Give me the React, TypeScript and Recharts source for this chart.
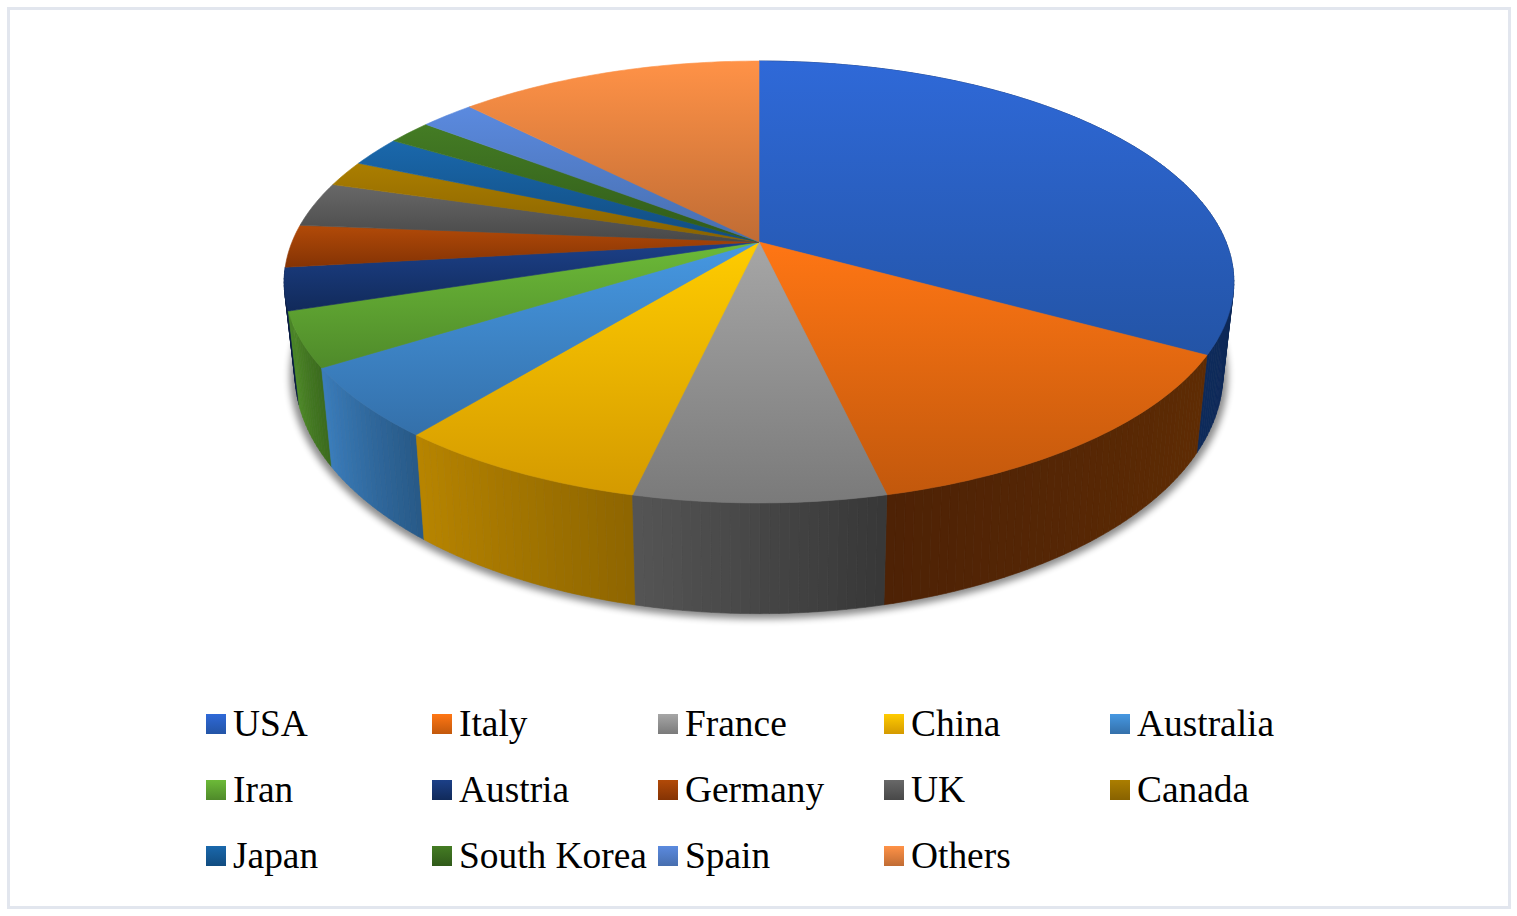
import React from 'react';
import { PieChart, Pie, Legend } from 'recharts';

const categories = ['USA', 'Italy', 'France', 'China', 'Australia', 'Iran', 'Austria', 'Germany', 'UK', 'Canada', 'Japan', 'South Korea', 'Spain', 'Others'];
const shares = [33.03, 13.35, 7.2, 7.29, 5.19, 4.0, 3.1, 3.1, 3.3, 1.9, 2.2, 1.8, 2.2, 12.34];

// top face gradient, light end then dark end
const lightColors = ['#2f69d8', '#ff7614', '#a6a6a6', '#ffcc00', '#4698e2', '#6cba38', '#1c4088', '#b24a08', '#686868', '#ab7e00', '#1a68ac', '#447c24', '#5b8adf', '#ff9247'];
const darkColors = ['#2354a6', '#c2580c', '#7a7a7a', '#d49a00', '#3470aa', '#4f8a2a', '#112a5a', '#843304', '#484848', '#886200', '#114c80', '#305a1a', '#476eae', '#c06c34'];
// side wall shade, clockwise start then end of each slice
const wallFrom = ['#0a1f44', '#5f2c04', '#383838', '#8f6600', '#285a88', '#3c6c1e', '#0c1f44', '#5a2604', '#383838', '#5c4200', '#0c3556', '#203c10', '#2f4a78', '#7c4620'];
const wallTo = ['#0e2a5a', '#4e2205', '#545454', '#b78400', '#3a7cba', '#4f8c28', '#0c1f44', '#5a2604', '#383838', '#5c4200', '#0c3556', '#203c10', '#2f4a78', '#7c4620'];

const tableData = categories.map((name, i) => ({ name, value: shares[i], fill: lightColors[i] }));
const reversedData = [...tableData].reverse();

const CX = 759;
const CY = 242;
const RADIUS = 467;
const SQUASH = 0.4576;
const PERSPECTIVE = 0.181;
const WIDEST_DY = 40;

// tilted disc: takes a library angle and returns the point on the rim
const rim = (cx: number, cy: number, r: number, angle: number) => {
  const t = ((90 - angle) * Math.PI) / 180;
  const u = Math.sin(t);
  const v = -Math.cos(t);
  const s = 1 / (1 - PERSPECTIVE * v);
  return [cx + r * u * s, cy + r * SQUASH * v * s];
};

const lower = (cx: number, cy: number, p: number[]) => [cx + (p[0] - cx) * 0.977, cy + 88 + (p[1] - cy) * 1.087];

const arcPoints = (props: any) => {
  const { cx, cy, outerRadius, startAngle, endAngle } = props;
  const pts: number[][] = [];
  const steps = Math.max(4, Math.ceil(Math.abs(startAngle - endAngle)));
  for (let i = 0; i <= steps; i++) {
    pts.push(rim(cx, cy, outerRadius, startAngle + ((endAngle - startAngle) * i) / steps));
  }
  return pts;
};

const toPath = (pts: number[][]) => 'M' + pts.map((p) => p[0].toFixed(2) + ' ' + p[1].toFixed(2)).join('L') + 'Z';

const mixHex = (a: string, b: string, t: number) => {
  const out = [1, 3, 5].map((k) => {
    const x = parseInt(a.slice(k, k + 2), 16);
    const y = parseInt(b.slice(k, k + 2), 16);
    return Math.round(x + (y - x) * t);
  });
  return `rgb(${out.join(',')})`;
};

const TopFace = (props: any) => {
  const url = `url(#top${props.index})`;
  return <path d={toPath([[props.cx, props.cy], ...arcPoints(props)])} fill={url} stroke={url} strokeWidth={0.6} />;
};

// side wall swept as thin strips, back to front, so the silhouette stays full
const wallStrips = (props: any, idx: number, flip: boolean) => {
  const pts = arcPoints(props);
  const strips = [];
  for (let i = 0; i < pts.length - 1; i++) {
    const a = pts[i];
    const b = pts[i + 1];
    const t = (flip ? pts.length - 2 - i : i) / Math.max(1, pts.length - 2);
    strips.push(
      <path
        key={i}
        d={toPath([a, b, lower(props.cx, props.cy, b), lower(props.cx, props.cy, a)])}
        fill={mixHex(wallFrom[idx], wallTo[idx], t)}
        stroke={mixHex(wallFrom[idx], wallTo[idx], t)}
        strokeWidth={0.6}
      />,
    );
  }
  return <g>{strips}</g>;
};

const cwAngle = (a: number) => ((90 - a) % 360 + 360) % 360;

const WallRight = (props: any) => {
  const idx = categories.indexOf(props.name);
  if (cwAngle(props.startAngle) >= 180) return <g />;
  return wallStrips(props, idx, false);
};

const WallLeft = (props: any) => {
  const idx = categories.indexOf(props.name);
  const pts = arcPoints(props);
  const first = pts[0];
  const last = pts[pts.length - 1];
  // clockwise start of this slice is the far end of the reversed sweep
  if (cwAngle(props.endAngle) < 180) return <g />;
  if (first[1] - props.cy < WIDEST_DY && last[1] - props.cy < WIDEST_DY) return <g />;
  return wallStrips(props, idx, true);
};

const Shadow = (props: any) => {
  const base = arcPoints(props).map((p) => lower(props.cx, props.cy, p));
  const mid: number[] = [props.cx, props.cy + 88];
  const grown = base.map((p) => [mid[0] + (p[0] - mid[0]) * 1.01, mid[1] + (p[1] - mid[1]) * 1.01 + 2]);
  return <path d={toPath([mid, ...grown])} fill="#000" stroke="#000" strokeWidth={1} />;
};

const LegendGrid = ({ payload }: any) => {
  const items = (payload || [])
    .filter((e: any) => e.type !== 'none')
    .slice(0, categories.length)
    .sort((a: any, b: any) => categories.indexOf(a.value) - categories.indexOf(b.value));
  return (
    <div style={{ display: 'grid', gridTemplateColumns: 'repeat(5, 226px)', gridAutoRows: '66px', fontFamily: '"Liberation Serif", serif', fontSize: 37.4, color: '#000' }}>
      {items.map((e: any) => {
        const i = categories.indexOf(e.value);
        return (
          <div key={e.value} style={{ display: 'flex', alignItems: 'center', whiteSpace: 'nowrap' }}>
            <span style={{ width: 20, height: 20, marginRight: 7, flex: 'none', background: `linear-gradient(${lightColors[i]}, ${darkColors[i]})` }} />
            <span style={{ position: 'relative', top: -1 }}>{e.value}</span>
          </div>
        );
      })}
    </div>
  );
};

export default function App() {
  return (
    <div style={{ position: 'absolute', left: 0, top: 0, width: 1517, height: 916, background: '#fff' }}>
      <style>{`.pie-shadow { filter: blur(3.5px); opacity: 0.45; }`}</style>
      <div style={{ position: 'absolute', left: 7, top: 7, width: 1504, height: 902, boxSizing: 'border-box', border: '3px solid #e2e6ee' }} />
      <PieChart width={1517} height={916} margin={{ top: 0, right: 0, bottom: 0, left: 0 }} style={{ position: 'absolute', left: 0, top: 0 }}>
        <defs>
          {categories.map((c, i) => (
            <linearGradient key={c} id={`top${i}`} x1="0" y1="0" x2="0" y2="1">
              <stop offset="0%" stopColor={lightColors[i]} />
              <stop offset="100%" stopColor={darkColors[i]} />
            </linearGradient>
          ))}
        </defs>
        <Pie className="pie-shadow" data={tableData} dataKey="value" nameKey="name" cx={CX} cy={CY} outerRadius={RADIUS} startAngle={90} endAngle={-270} legendType="none" shape={Shadow} isAnimationActive={false} />
        {/* left walls run from the back towards the front, so this pie goes the other way round */}
        <Pie data={reversedData} dataKey="value" nameKey="name" cx={CX} cy={CY} outerRadius={RADIUS} startAngle={-270} endAngle={90} legendType="none" shape={WallLeft} isAnimationActive={false} />
        <Pie data={tableData} dataKey="value" nameKey="name" cx={CX} cy={CY} outerRadius={RADIUS} startAngle={90} endAngle={-270} legendType="none" shape={WallRight} isAnimationActive={false} />
        <Pie data={tableData} dataKey="value" nameKey="name" cx={CX} cy={CY} outerRadius={RADIUS} startAngle={90} endAngle={-270} legendType="square" shape={TopFace} isAnimationActive={false} />
        <Legend content={<LegendGrid />} itemSorter={null} wrapperStyle={{ position: 'absolute', left: 206, top: 691, width: 1130, bottom: 'auto' }} />
      </PieChart>
    </div>
  );
}
